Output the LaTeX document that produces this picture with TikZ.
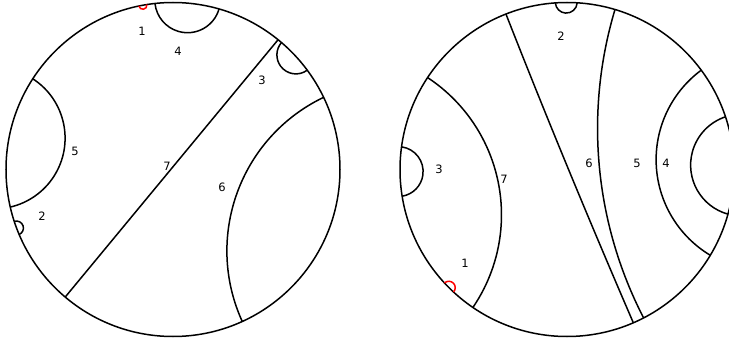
\documentclass[tikz,border=0pt]{standalone}
\usepackage{fontspec}
\setsansfont{DejaVu Sans}
\tikzset{
  disk/.style={line width=1.5pt},
  geod/.style={line width=1.5pt},
  tinygeod/.style={red,line width=1.5pt},
  numlbl/.style={font=\sffamily\fontsize{11.5}{13}\selectfont,inner sep=0pt},
}
\begin{document}
\begin{tikzpicture}[x=1pt,y=-1pt]
  \useasboundingbox (0,0) rectangle (729,345);
  \clip (0,0) rectangle (729,345);
  % left disk
  \begin{scope}[shift={(173pt,-169.5pt)},x=167pt,y=167pt]
    \draw[disk] (0,0) circle[radius=1];
    \draw[geod] (51:1) -- (229.8:1);
    \foreach \a/\b in {74/96.2,36.5/49.5,-65.5/25.6,147.1/193,198.1/202.9}
      \draw[geod] (\a:1) arc[start angle=\a-90,end angle=\b-270,radius={tan((\b-\a)/2)}];
    \draw[tinygeod] (99:1) arc[start angle=9,end angle=-168.2,radius={tan(1.4)}];
  \end{scope}
  % right disk
  \begin{scope}[shift={(567pt,-169.5pt)},x=167pt,y=167pt]
    \draw[disk] (0,0) circle[radius=1];
    \foreach \a/\b in {-66.6/111.4,86.5/94,-62.7/73.3,-30.9/36.5,-15.5/18.4,172.2/189.2,146.6/235.7}
      \draw[geod] (\a:1) arc[start angle=\a-90,end angle=\b-270,radius={tan((\b-\a)/2)}];
    \draw[tinygeod] (222.8:1) arc[start angle=132.8,end angle=-42.8,radius={tan(2.2)}];
  \end{scope}
  % labels
  \node[numlbl] (a1) at (142,31) {1};
  \node[numlbl] (a4) at (178,51) {4};
  \node[numlbl] (a3) at (262,80) {3};
  \node[numlbl] (a5) at (75,151) {5};
  \node[numlbl] (a7) at (167,166) {7};
  \node[numlbl] (a6) at (222,187) {6};
  \node[numlbl] (a2) at (42,216) {2};
  \node[numlbl] (b2) at (561,36) {2};
  \node[numlbl] (b3) at (439,169) {3};
  \node[numlbl] (b7) at (504,179) {7};
  \node[numlbl] (b6) at (589,163) {6};
  \node[numlbl] (b5) at (637,163) {5};
  \node[numlbl] (b4) at (666,163) {4};
  \node[numlbl] (b1) at (465,263) {1};
\end{tikzpicture}
\end{document}
